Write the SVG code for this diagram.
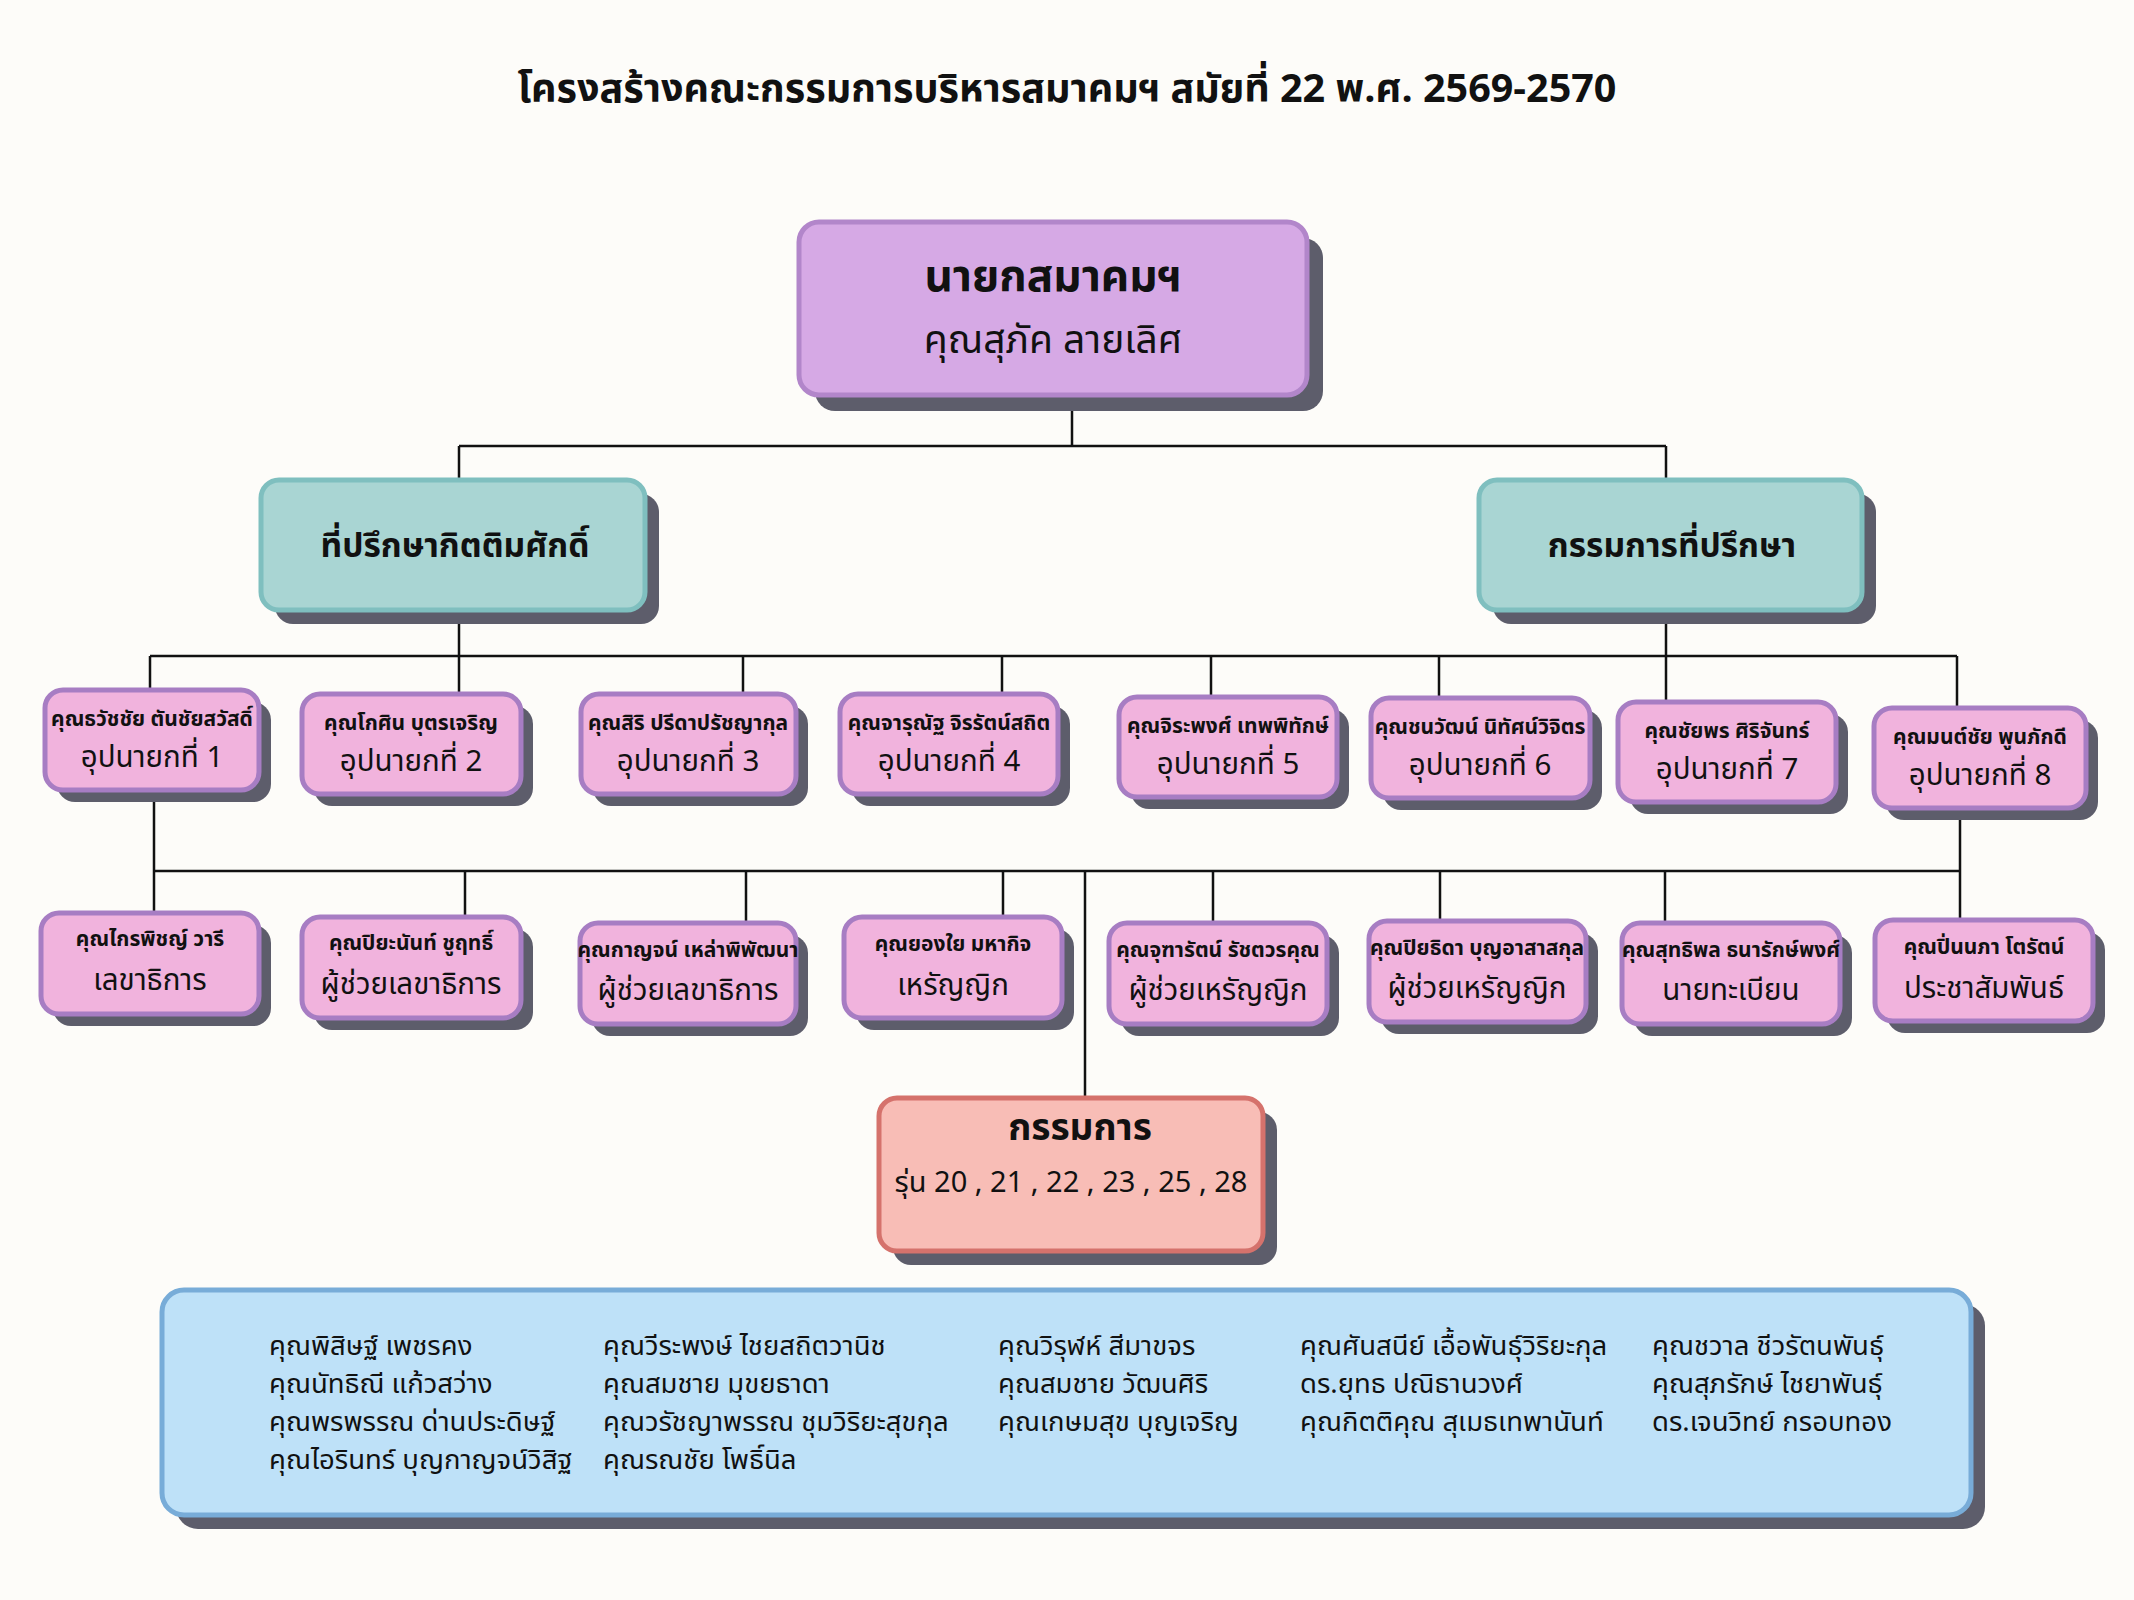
<svg xmlns="http://www.w3.org/2000/svg" width="2134" height="1600" viewBox="0 0 2134 1600">
<style>
text{font-family:"Noto Sans Thai","Noto Sans Thai Looped","Noto Sans",sans-serif;fill:#111;text-anchor:middle}
.b{font-weight:700}
.sh{fill:#5d5d6b}
.pk{fill:#f1b3dd;stroke:#a77dc3;stroke-width:5}
.top{fill:#d6a9e5;stroke:#b286ca;stroke-width:5}
.tl{fill:#a9d5d3;stroke:#7fbfbf;stroke-width:5}
.sal{fill:#f8bdb6;stroke:#d5726c;stroke-width:5}
.bl{fill:#bee1f8;stroke:#78acd8;stroke-width:5}
.nm{font-size:21px;font-weight:700}
.ti{font-size:29.5px}
.lst{font-size:27.5px;text-anchor:start}
.ln{stroke:#111;stroke-width:2.5;fill:none}
</style>
<rect width="2134" height="1600" fill="#fdfcf9"/>
<text x="1067" y="102" class="b" style="font-size:39.5px">โครงสร้างคณะกรรมการบริหารสมาคมฯ สมัยที่ 22 พ.ศ. 2569-2570</text>

<g id="connectors">
<path class="ln" d="M1072,395V446M459,446H1666M459,446V480M1666,446V480"/>
<path class="ln" d="M459,610V656M1666,610V656M150,656H1957"/>
<path class="ln" d="M150,656V690M459,656V694M743,656V694M1002,656V694M1211,656V697M1439,656V698M1666,656V702M1957,656V708"/>
<path class="ln" d="M154,790V871M1960,808V871M154,871H1960"/>
<path class="ln" d="M154,871V913M465,871V917M746,871V923M1003,871V917M1213,871V923M1440,871V921M1665,871V923M1960,871V920M1085,871V1098"/>
</g>

<g id="n-president">
<rect class="sh" x="815" y="238" width="508" height="173" rx="20"/>
<rect class="top" x="799" y="222" width="508" height="173" rx="20"/>
<text x="1053" y="291" class="b" style="font-size:44px">นายกสมาคมฯ</text>
<text x="1053" y="353" style="font-size:39px">คุณสุภัค ลายเลิศ</text>
</g>

<g id="n-honorary">
<rect class="sh" x="275" y="494" width="384" height="130" rx="18"/>
<rect class="tl" x="261" y="480" width="384" height="130" rx="18"/>
<text x="455" y="557" class="b" style="font-size:33.5px">ที่ปรึกษากิตติมศักดิ์</text>
</g>

<g id="n-advisors">
<rect class="sh" x="1493" y="494" width="383" height="130" rx="18"/>
<rect class="tl" x="1479" y="480" width="383" height="130" rx="18"/>
<text x="1672" y="557" class="b" style="font-size:33.5px">กรรมการที่ปรึกษา</text>
</g>

<g id="n-vp1">
<rect class="sh" x="57" y="702" width="214" height="100" rx="18"/>
<rect class="pk" x="45" y="690" width="214" height="100" rx="18"/>
<text x="152" y="726" class="nm">คุณธวัชชัย ตันชัยสวัสดิ์</text>
<text x="152" y="767" class="ti">อุปนายกที่ 1</text>
</g>
<g id="n-vp2">
<rect class="sh" x="314" y="706" width="219" height="100" rx="18"/>
<rect class="pk" x="302" y="694" width="219" height="100" rx="18"/>
<text x="411" y="730" class="nm">คุณโกศิน บุตรเจริญ</text>
<text x="411" y="771" class="ti">อุปนายกที่ 2</text>
</g>
<g id="n-vp3">
<rect class="sh" x="593" y="706" width="215" height="100" rx="18"/>
<rect class="pk" x="581" y="694" width="215" height="100" rx="18"/>
<text x="688" y="730" class="nm">คุณสิริ ปรีดาปรัชญากุล</text>
<text x="688" y="771" class="ti">อุปนายกที่ 3</text>
</g>
<g id="n-vp4">
<rect class="sh" x="852" y="706" width="218" height="100" rx="18"/>
<rect class="pk" x="840" y="694" width="218" height="100" rx="18"/>
<text x="949" y="730" class="nm">คุณจารุณัฐ จิรรัตน์สถิต</text>
<text x="949" y="771" class="ti">อุปนายกที่ 4</text>
</g>
<g id="n-vp5">
<rect class="sh" x="1131" y="709" width="218" height="100" rx="18"/>
<rect class="pk" x="1119" y="697" width="218" height="100" rx="18"/>
<text x="1228" y="733" class="nm">คุณจิระพงศ์ เทพพิทักษ์</text>
<text x="1228" y="774" class="ti">อุปนายกที่ 5</text>
</g>
<g id="n-vp6">
<rect class="sh" x="1383" y="710" width="219" height="100" rx="18"/>
<rect class="pk" x="1371" y="698" width="219" height="100" rx="18"/>
<text x="1480" y="734" class="nm">คุณชนวัฒน์ นิทัศน์วิจิตร</text>
<text x="1480" y="775" class="ti">อุปนายกที่ 6</text>
</g>
<g id="n-vp7">
<rect class="sh" x="1630" y="714" width="218" height="100" rx="18"/>
<rect class="pk" x="1618" y="702" width="218" height="100" rx="18"/>
<text x="1727" y="738" class="nm">คุณชัยพร ศิริจันทร์</text>
<text x="1727" y="779" class="ti">อุปนายกที่ 7</text>
</g>
<g id="n-vp8">
<rect class="sh" x="1886" y="720" width="212" height="100" rx="18"/>
<rect class="pk" x="1874" y="708" width="212" height="100" rx="18"/>
<text x="1980" y="744" class="nm">คุณมนต์ชัย พูนภักดี</text>
<text x="1980" y="785" class="ti">อุปนายกที่ 8</text>
</g>

<g id="n-sec">
<rect class="sh" x="53" y="925" width="218" height="101" rx="18"/>
<rect class="pk" x="41" y="913" width="218" height="101" rx="18"/>
<text x="150" y="946" class="nm">คุณไกรพิชญ์ วารี</text>
<text x="150" y="990" class="ti">เลขาธิการ</text>
</g>
<g id="n-asec1">
<rect class="sh" x="314" y="929" width="219" height="101" rx="18"/>
<rect class="pk" x="302" y="917" width="219" height="101" rx="18"/>
<text x="411" y="950" class="nm">คุณปิยะนันท์ ชูฤทธิ์</text>
<text x="411" y="994" class="ti">ผู้ช่วยเลขาธิการ</text>
</g>
<g id="n-asec2">
<rect class="sh" x="592" y="935" width="216" height="101" rx="18"/>
<rect class="pk" x="580" y="923" width="216" height="101" rx="18"/>
<text x="688" y="957" class="nm">คุณกาญจน์ เหล่าพิพัฒนา</text>
<text x="688" y="1000" class="ti">ผู้ช่วยเลขาธิการ</text>
</g>
<g id="n-treas">
<rect class="sh" x="856" y="929" width="218" height="101" rx="18"/>
<rect class="pk" x="844" y="917" width="218" height="101" rx="18"/>
<text x="953" y="951" class="nm">คุณยองใย มหากิจ</text>
<text x="953" y="995" class="ti">เหรัญญิก</text>
</g>
<g id="n-atreas1">
<rect class="sh" x="1121" y="935" width="218" height="101" rx="18"/>
<rect class="pk" x="1109" y="923" width="218" height="101" rx="18"/>
<text x="1218" y="957" class="nm">คุณจุฑารัตน์ รัชตวรคุณ</text>
<text x="1218" y="1000" class="ti">ผู้ช่วยเหรัญญิก</text>
</g>
<g id="n-atreas2">
<rect class="sh" x="1381" y="933" width="217" height="101" rx="18"/>
<rect class="pk" x="1369" y="921" width="217" height="101" rx="18"/>
<text x="1477" y="955" class="nm">คุณปิยธิดา บุญอาสาสกุล</text>
<text x="1477" y="998" class="ti">ผู้ช่วยเหรัญญิก</text>
</g>
<g id="n-reg">
<rect class="sh" x="1634" y="935" width="218" height="101" rx="18"/>
<rect class="pk" x="1622" y="923" width="218" height="101" rx="18"/>
<text x="1731" y="957" class="nm">คุณสุทธิพล ธนารักษ์พงศ์</text>
<text x="1731" y="1000" class="ti">นายทะเบียน</text>
</g>
<g id="n-pr">
<rect class="sh" x="1887" y="932" width="218" height="101" rx="18"/>
<rect class="pk" x="1875" y="920" width="218" height="101" rx="18"/>
<text x="1984" y="954" class="nm">คุณปิ่นนภา โตรัตน์</text>
<text x="1984" y="998" class="ti">ประชาสัมพันธ์</text>
</g>

<g id="n-committee">
<rect class="sh" x="893" y="1112" width="384" height="153" rx="18"/>
<rect class="sal" x="879" y="1098" width="384" height="153" rx="18"/>
<text x="1080" y="1140" class="b" style="font-size:37px">กรรมการ</text>
<text x="1071" y="1192" style="font-size:29px">รุ่น 20 , 21 , 22 , 23 , 25 , 28</text>
</g>

<g id="n-members">
<rect class="sh" x="176" y="1304" width="1809" height="225" rx="22"/>
<rect class="bl" x="162" y="1290" width="1809" height="225" rx="22"/>
<text class="lst" x="269" y="1355">คุณพิสิษฐ์ เพชรคง</text>
<text class="lst" x="269" y="1393">คุณนัทธิณี แก้วสว่าง</text>
<text class="lst" x="269" y="1431">คุณพรพรรณ ด่านประดิษฐ์</text>
<text class="lst" x="269" y="1469">คุณไอรินทร์ บุญกาญจน์วิสิฐ</text>
<text class="lst" x="603" y="1355">คุณวีระพงษ์ ไชยสถิตวานิช</text>
<text class="lst" x="603" y="1393">คุณสมชาย มุขยธาดา</text>
<text class="lst" x="603" y="1431">คุณวรัชญาพรรณ ชุมวิริยะสุขกุล</text>
<text class="lst" x="603" y="1469">คุณรณชัย โพธิ์นิล</text>
<text class="lst" x="998" y="1355">คุณวิรุฬห์ สีมาขจร</text>
<text class="lst" x="998" y="1393">คุณสมชาย วัฒนศิริ</text>
<text class="lst" x="998" y="1431">คุณเกษมสุข บุญเจริญ</text>
<text class="lst" x="1300" y="1355">คุณศันสนีย์ เอื้อพันธุ์วิริยะกุล</text>
<text class="lst" x="1300" y="1393">ดร.ยุทธ ปณิธานวงศ์</text>
<text class="lst" x="1300" y="1431">คุณกิตติคุณ สุเมธเทพานันท์</text>
<text class="lst" x="1652" y="1355">คุณชวาล ชีวรัตนพันธุ์</text>
<text class="lst" x="1652" y="1393">คุณสุภรักษ์ ไชยาพันธุ์</text>
<text class="lst" x="1652" y="1431">ดร.เจนวิทย์ กรอบทอง</text>
</g>
</svg>
